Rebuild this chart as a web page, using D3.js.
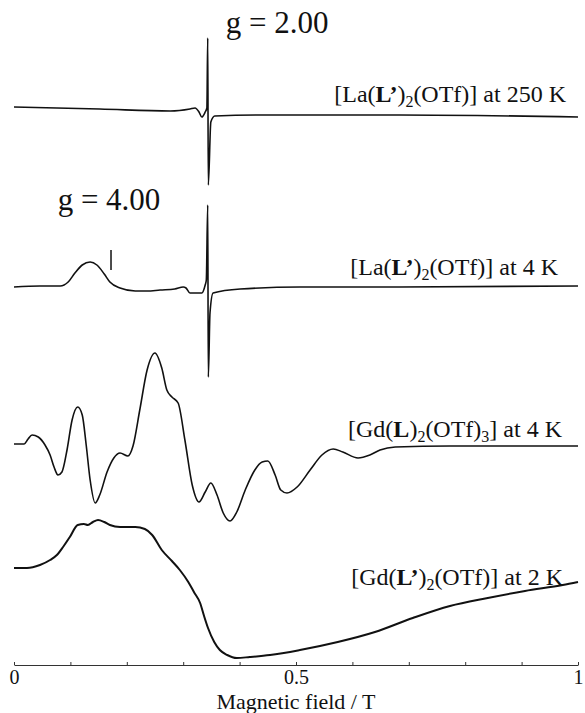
<!DOCTYPE html>
<html lang="en">
<head>
    <meta charset="UTF-8">
    <title>EPR spectra</title>
    <script src="https://cdn.jsdelivr.net/npm/d3@7"></script>
    <style>
        body { margin: 0; background: #fff; }
        svg text { font-family: "Liberation Serif", "DejaVu Serif", serif; fill: #111; }
    </style>
</head>
<body>
    <svg id="svg" width="585" height="713"></svg>
    <script>
        // [field (T), signal (a.u., measured from the trace's own baseline)]
        const la250 = [
            [0, 0], [0.152, -2], [0.277, -4], [0.312, -2], [0.321, -1], [0.328, -5], [0.333, -10],
            [0.339, -5], [0.342, -1], [0.3435, 69], [0.3445, -78], [0.349, -15], [0.356, -9],
            [0.436, -8], [0.684, -8], [1.0, -10]
        ]
        const la4 = [
            [0, 0], [0.046, 1], [0.082, 1], [0.096, 5], [0.108, 14], [0.121, 22], [0.135, 25],
            [0.147, 22], [0.160, 13], [0.170, 5], [0.188, -1], [0.215, -4], [0.236, -4],
            [0.259, -3], [0.285, -2], [0.300, 0], [0.305, -1], [0.312, -6], [0.333, -6],
            [0.339, 2], [0.341, 7], [0.3435, 82], [0.3445, -90], [0.3475, -26], [0.353, -6],
            [0.401, -2], [0.507, 0], [0.684, 0], [1.0, 1]
        ]
        const gdL4 = [
            [0, 0], [0.018, 0], [0.025, 5], [0.032, 9], [0.043, 7], [0.055, -1], [0.064, -11],
            [0.071, -23], [0.078, -31], [0.085, -28], [0.094, -6], [0.103, 24], [0.113, 37],
            [0.121, 29], [0.128, -1], [0.135, -36], [0.144, -59], [0.152, -51], [0.165, -28],
            [0.177, -14], [0.188, -9], [0.202, -12], [0.211, -2], [0.223, 34], [0.236, 74],
            [0.250, 91], [0.262, 76], [0.271, 54], [0.280, 47], [0.291, 41], [0.303, 4],
            [0.316, -41], [0.328, -58], [0.339, -48], [0.349, -39], [0.360, -51], [0.371, -69],
            [0.383, -77], [0.395, -68], [0.410, -46], [0.427, -26], [0.440, -18], [0.450, -17],
            [0.463, -31], [0.473, -46], [0.484, -49], [0.502, -43], [0.525, -26], [0.546, -11],
            [0.566, -5], [0.583, -8], [0.610, -14], [0.631, -11], [0.649, -6], [0.676, -3],
            [0.773, -2], [1.0, -2]
        ]
        const gdLp2 = [
            [0, 0], [0.023, 0], [0.046, 3], [0.064, 8], [0.076, 13], [0.087, 21], [0.099, 31],
            [0.113, 43], [0.124, 44], [0.131, 43], [0.140, 46], [0.149, 48], [0.160, 46],
            [0.170, 43], [0.188, 41], [0.215, 41], [0.232, 39], [0.245, 33], [0.262, 18],
            [0.280, 7], [0.294, -2], [0.309, -14], [0.319, -24], [0.330, -35], [0.337, -48],
            [0.344, -60], [0.355, -74], [0.365, -82], [0.378, -87], [0.395, -90], [0.418, -89],
            [0.454, -87], [0.507, -82], [0.574, -74], [0.640, -64], [0.707, -50], [0.773, -38],
            [0.840, -30], [0.906, -23], [0.973, -17], [1.0, -14]
        ]

        const series = [la250, la4, gdL4, gdLp2]
        const offsets = [558, 378, 221, 97]
        const widths = [1.6, 1.6, 1.6, 2]

        // label parts: [text, style]  style: n normal, b bold, s subscript
        const labels = [
            [["[La(", "n"], ["L’", "b"], [")", "n"], ["2", "s"], ["(OTf)] at 250 K", "n"]],
            [["[La(", "n"], ["L’", "b"], [")", "n"], ["2", "s"], ["(OTf)] at 4 K", "n"]],
            [["[Gd(", "n"], ["L", "b"], [")", "n"], ["2", "s"], ["(OTf)", "n"], ["3", "s"], ["] at 4 K", "n"]],
            [["[Gd(", "n"], ["L’", "b"], [")", "n"], ["2", "s"], ["(OTf)] at 2 K", "n"]]
        ]
        const labelY = [102, 275, 437, 585]
        const labelX = [566, 558, 562, 563]

        const gValues = ["2.00", "4.00"]
        const gFields = [0.3435, 0.172]

        const tickValues = [0, 0.1, 0.2, 0.3, 0.4, 0.5, 0.6, 0.7, 0.8, 0.9, 1.0]
        const tickLabels = {0: "0", 0.5: "0.5", 1: "1"}

        const svg = d3.select("#svg")
        const xScale = d3.scaleLinear().domain([0, 1]).range([14, 578])
        const yScale = d3.scaleLinear().domain([0, 660]).range([665, 5])

        const line = d3.line()
            .x(d => xScale(d[0]))
            .y(d => yScale(d[1]))
            .curve(d3.curveMonotoneX)

        svg.append("g").attr("class", "traces")
            .selectAll("path").data(series).join("path")
            .attr("fill", "none")
            .attr("stroke", "#111")
            .attr("stroke-width", (d, i) => widths[i])
            .attr("stroke-linejoin", "round")
            .attr("d", (d, i) => line(d.map(p => [p[0], p[1] + offsets[i]])))

        // g = 4.00 marker on the 4 K trace
        svg.append("line")
            .attr("x1", xScale(gFields[1])).attr("x2", xScale(gFields[1]))
            .attr("y1", yScale(offsets[1] + 37)).attr("y2", yScale(offsets[1] + 17))
            .attr("stroke", "#111").attr("stroke-width", 1.5)

        svg.append("text")
            .attr("x", xScale(gFields[0]) + 18).attr("y", 33)
            .attr("font-size", 31)
            .text("g = " + gValues[0])
        svg.append("text")
            .attr("x", xScale(gFields[1]) - 2).attr("y", 210)
            .attr("text-anchor", "middle")
            .attr("font-size", 31)
            .text("g = " + gValues[1])

        const lab = svg.append("g").attr("class", "labels")
            .selectAll("text").data(labels).join("text")
            .attr("x", (d, i) => labelX[i])
            .attr("y", (d, i) => labelY[i])
            .attr("text-anchor", "end")
            .attr("font-size", 24)
        lab.each(function(parts) {
            const t = d3.select(this)
            let shifted = false
            parts.forEach(p => {
                const ts = t.append("tspan").text(p[0])
                if (p[1] === "b") ts.attr("font-weight", "bold")
                if (p[1] === "s") {
                    ts.attr("font-size", 16).attr("dy", 5)
                    shifted = true
                } else if (shifted) {
                    ts.attr("dy", -5)
                    shifted = false
                }
            })
        })

        const xAxis = d3.axisBottom(xScale)
            .tickValues(tickValues)
            .tickSize(-3)
            .tickSizeOuter(0)
            .tickPadding(5)
            .tickFormat(d => tickLabels[d] || "")
        const ax = svg.append("g").attr("transform", `translate(0, 665)`).call(xAxis)
        ax.attr("font-family", null)
        ax.select(".domain").attr("stroke", "#333")
        ax.selectAll(".tick line").attr("stroke", "#333")
        ax.selectAll("text").attr("font-size", 20).attr("fill", "#111")

        svg.append("text")
            .attr("x", xScale(0.5)).attr("y", 709)
            .attr("text-anchor", "middle")
            .attr("font-size", 22)
            .text("Magnetic field / T")
    </script>
</body>
</html>
